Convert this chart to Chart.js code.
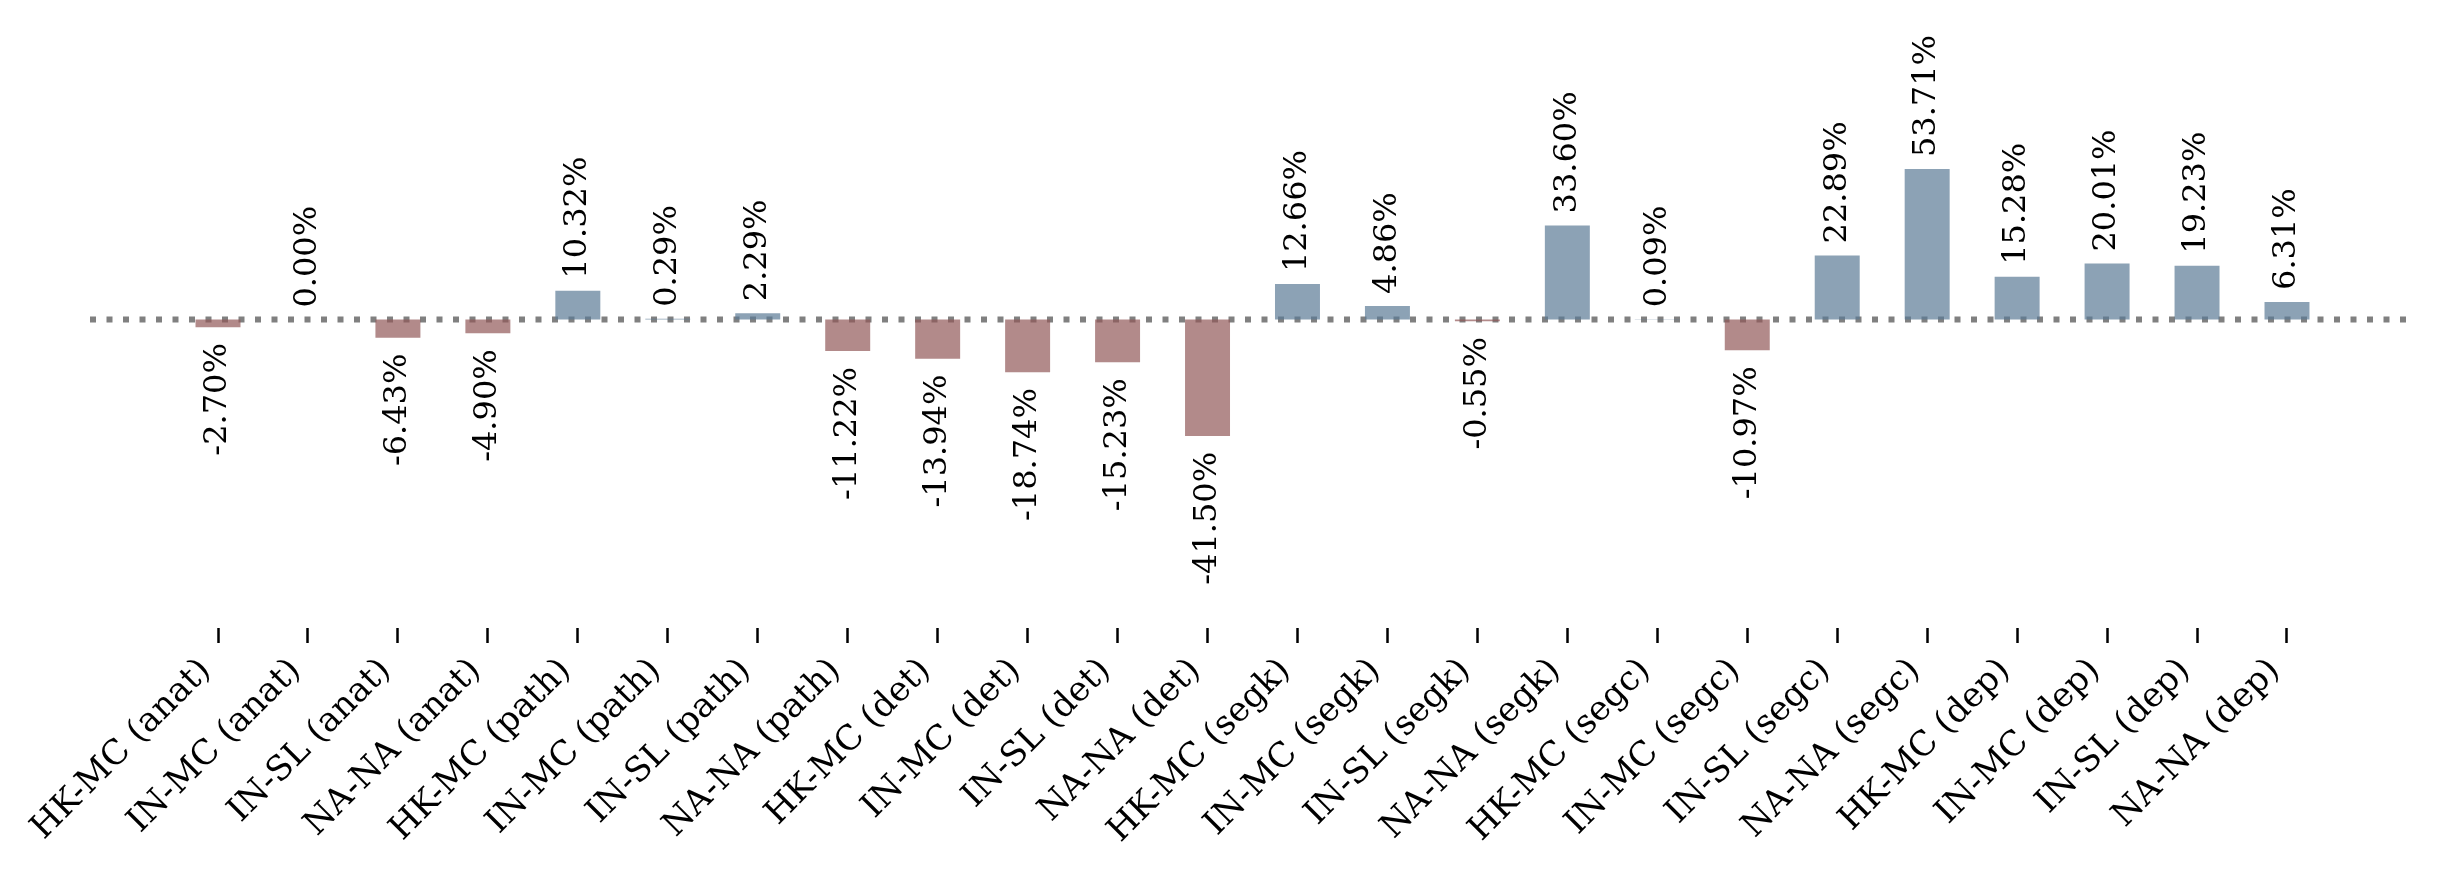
<!DOCTYPE html>
<html>
<head>
<meta charset="utf-8">
<script src="https://cdn.jsdelivr.net/npm/chart.js@4.4.1/dist/chart.umd.min.js"></script>
<style>
  html, body { margin: 0; padding: 0; background: #fff; }
  #wrap { width: 2444px; height: 878px; position: relative; }
</style>
</head>
<body>
<div id="wrap"><canvas id="gap-chart"></canvas></div>
<script>
// categories (dataset pair + task)
var categories = [
  'HK-MC (anat)', 'IN-MC (anat)', 'IN-SL (anat)', 'NA-NA (anat)',
  'HK-MC (path)', 'IN-MC (path)', 'IN-SL (path)', 'NA-NA (path)',
  'HK-MC (det)', 'IN-MC (det)', 'IN-SL (det)', 'NA-NA (det)',
  'HK-MC (segk)', 'IN-MC (segk)', 'IN-SL (segk)', 'NA-NA (segk)',
  'HK-MC (segc)', 'IN-MC (segc)', 'IN-SL (segc)', 'NA-NA (segc)',
  'HK-MC (dep)', 'IN-MC (dep)', 'IN-SL (dep)', 'NA-NA (dep)'
];

// relative change in percent
var changes = [
  -2.70, 0.00, -6.43, -4.90,
  10.32, 0.29, 2.29, -11.22,
  -13.94, -18.74, -15.23, -41.50,
  12.66, 4.86, -0.55, 33.60,
  0.09, -10.97, 22.89, 53.71,
  15.28, 20.01, 19.23, 6.31
];

var posColor = 'rgba(91, 122, 149, 0.7)';
var negColor = 'rgba(146, 88, 88, 0.7)';
var serif = "'DejaVu Serif', serif";

// dotted zero line behind the bars
var zeroLine = {
  id: 'zeroLine',
  beforeDatasetsDraw: function(chart) {
    var c = chart.ctx, a = chart.chartArea;
    var y = chart.scales.y.getPixelForValue(0);
    c.save();
    c.strokeStyle = '#808080';
    c.lineWidth = 6;
    c.setLineDash([6, 10.5]);
    c.beginPath();
    c.moveTo(a.left, y);
    c.lineTo(a.right, y);
    c.stroke();
    c.restore();
  }
};

// rotated percent labels on the bar ends
var barLabels = {
  id: 'barLabels',
  afterDatasetsDraw: function(chart) {
    var c = chart.ctx;
    var bars = chart.getDatasetMeta(0).data;
    c.save();
    c.fillStyle = '#000';
    c.font = '32px ' + serif;
    c.textBaseline = 'middle';
    bars.forEach(function(bar, i) {
      var v = changes[i];
      c.save();
      if (v >= 0) {
        c.translate(bar.x, bar.y - 12);
        c.textAlign = 'left';
      } else {
        c.translate(bar.x, bar.y + 16);
        c.textAlign = 'right';
      }
      c.rotate(-Math.PI / 2);
      c.fillText(v.toFixed(2) + '%', 0, 0);
      c.restore();
    });
    c.restore();
  }
};

var ctx = document.getElementById('gap-chart');

var myChart = new Chart(ctx, {
  type: 'bar',
  data: {
    datasets: [{
      data: changes.map(function(v, i) { return { x: i, y: v }; }),
      backgroundColor: changes.map(function(v) { return v >= 0 ? posColor : negColor; }),
      borderWidth: 0,
      barPercentage: 0.5,
      categoryPercentage: 1
    }]
  },
  options: {
    responsive: true,
    maintainAspectRatio: false,
    animation: false,
    layout: { padding: { left: 90, right: 29, top: 0, bottom: 0 } },
    plugins: { legend: { display: false }, tooltip: { enabled: false } },
    scales: {
      x: {
        type: 'linear',
        offset: false,
        bounds: 'data',
        min: -1.423,
        max: categories.length - 1 + 1.423,
        border: { display: false },
        grid: { display: true, drawOnChartArea: false, drawTicks: true, offset: false,
                tickLength: 15, tickWidth: 2.5, tickColor: '#000' },
        afterBuildTicks: function(axis) {
          axis.ticks = categories.map(function(c, i) { return { value: i }; });
        },
        afterFit: function(axis) { axis.height = 250; },
        ticks: {
          autoSkip: false,
          minRotation: 45,
          maxRotation: 45,
          padding: 8,
          labelOffset: -12,
          color: '#000',
          font: { family: serif, size: 34 },
          callback: function(value) { return categories[value]; }
        }
      },
      y: {
        display: false,
        min: -110,
        max: 114
      }
    }
  },
  plugins: [zeroLine, barLabels]
});
</script>
</body>
</html>
